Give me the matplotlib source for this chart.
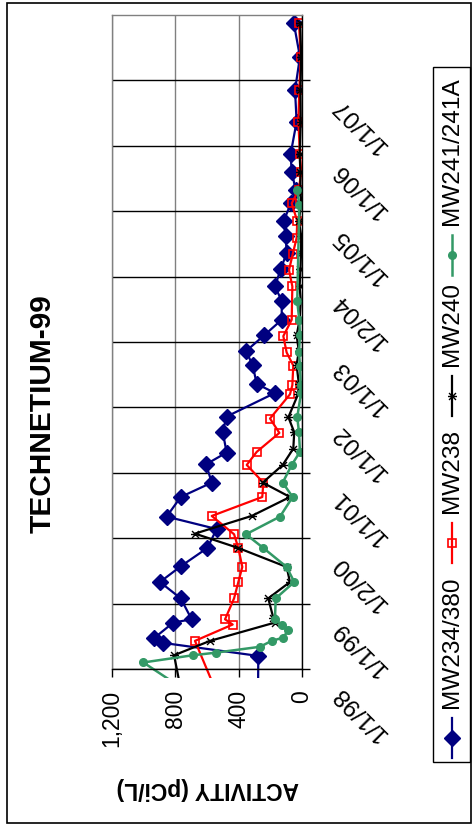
import matplotlib
matplotlib.use('Agg')
import matplotlib.pyplot as plt
from matplotlib.path import Path
from matplotlib.patches import Rectangle
from matplotlib.transforms import ScaledTranslation
from matplotlib.ticker import FuncFormatter

plt.rcParams['font.family'] = ['Liberation Sans', 'DejaVu Sans']

# sample dates as decimal years, activity in pCi/L
mw234_yr = [1997.5, 1998.20, 1998.40, 1998.47, 1998.71, 1998.76, 1999.08, 1999.33, 1999.57, 1999.85,
            2000.14, 2000.33, 2000.63, 2000.85, 2001.13, 2001.31, 2001.63, 2001.86, 2002.22, 2002.36,
            2002.65, 2002.86, 2003.10, 2003.34, 2003.63, 2003.85, 2004.11, 2004.36, 2004.62, 2004.85,
            2005.12, 2005.33, 2005.60, 2005.87, 2006.37, 2006.85, 2007.36, 2007.88]
mw234_val = [278, 276, 880, 935, 813, 697, 766, 897, 766, 598,
             539, 855, 766, 570, 606, 476, 501, 476, 171, 286,
             312, 354, 240, 128, 128, 171, 135, 97, 103, 116,
             70, 40, 65, 72, 34, 44, 13, 52]

mw238_yr = [1997.5, 1998.43, 1998.68, 1998.76, 1999.08, 1999.33, 1999.56, 1999.85, 2000.06, 2000.34,
            2000.63, 2000.85, 2001.12, 2001.32, 2001.61, 2001.83, 2002.20, 2002.34, 2002.64, 2002.84,
            2003.09, 2003.34, 2003.85, 2004.10, 2004.34, 2004.59, 2004.85, 2005.12, 2005.33, 2005.60,
            2005.87, 2006.37, 2006.85, 2007.36, 2007.88]
mw238_val = [515, 676, 438, 486, 429, 402, 377, 402, 429, 570,
             251, 244, 349, 286, 143, 202, 76, 61, 55, 97,
             118, 65, 61, 82, 59, 34, 30, 65, 20, 5,
             13, 23, 17, 8, 19]

mw240_yr = [1997.5, 1998.21, 1998.43, 1998.71, 1998.78, 1999.08, 1999.33, 1999.56, 1999.85, 2000.07,
            2000.34, 2000.63, 2000.85, 2001.12, 2001.37, 2001.62, 2001.85, 2002.20, 2002.36, 2002.65,
            2002.86, 2003.10, 2003.34, 2003.63, 2003.85, 2004.11, 2004.36, 2004.62, 2004.85, 2005.12,
            2005.33, 2005.60, 2005.87, 2006.37, 2006.85, 2007.36, 2007.88]
mw240_val = [750, 808, 581, 171, 181, 213, 76, 97, 402, 676,
             318, 76, 248, 122, 55, 49, 86, 25, 20, 34,
             20, 34, 15, 8, 15, 10, 6, 5, 20, 5,
             10, 10, 15, 8, 10, 5, 12]

mw241_yr = [1997.5, 1998.10, 1998.21, 1998.25, 1998.34, 1998.43, 1998.48, 1998.60, 1998.68, 1998.76,
            1999.08, 1999.33, 1999.56, 1999.85, 2000.06, 2000.33, 2000.63, 2000.85, 2001.12, 2001.32,
            2001.62, 2001.85, 2002.22, 2002.34, 2002.64, 2002.84, 2003.10, 2003.34, 2003.62, 2005.10,
            2005.33]
mw241_val = [628, 1002, 690, 543, 265, 192, 118, 86, 128, 171,
             166, 49, 97, 244, 354, 139, 59, 122, 65, 13,
             19, 30, 6, 8, 13, 19, 13, 17, 30, 17,
             30]

date_ticks = [1998, 1999, 2000, 2001, 2002, 2003, 2004, 2005, 2006, 2007]
date_labels = ['1/1/98', '1/1/99', '1/2/00', '1/1/01', '1/1/02',
               '1/1/03', '1/2/04', '1/1/05', '1/1/06', '1/1/07']
value_ticks = [0, 400, 800, 1200]
series_names = ['MW234/380', 'MW238', 'MW240', 'MW241/241A']

# asterisk marker (x with a crossing bar)
star = Path([(-1, -1), (1, 1), (-1, 1), (1, -1), (-1.3, 0), (1.3, 0)],
            [Path.MOVETO, Path.LINETO, Path.MOVETO, Path.LINETO, Path.MOVETO, Path.LINETO])

colors = ['#000080', '#FF0000', 'black', '#339966']
line_w = [1.6, 1.6, 1.6, 1.8]
markers = [
    dict(marker='D', markersize=8),
    dict(marker='s', markersize=5.2, mfc='none', mew=1.2),
    dict(marker=star, markersize=6.5, mew=1),
    dict(marker='o', markersize=5.5),
]
series = [(mw234_yr, mw234_val), (mw238_yr, mw238_val),
          (mw240_yr, mw240_val), (mw241_yr, mw241_val)]

fig = plt.figure(figsize=(4.72, 8.27), dpi=100)
ax = fig.add_axes([112 / 472, 158 / 827, 190 / 472, 654 / 827])

# lines run a little past the start of the date axis
clip = Rectangle((0, -0.013), 1, 1.013, transform=ax.transAxes)
for (yr, val), c, lw, mk in zip(series, colors, line_w, markers):
    line, = ax.plot(val, yr, color=c, lw=lw, **mk)
    line.set_clip_path(clip)

ax.set_xlim(1200, 0)
ax.set_ylim(1998, 2008)
ax.set_xticks(value_ticks)
ax.xaxis.set_major_formatter(FuncFormatter(lambda v, p: f'{v:,.0f}'))
ax.set_yticks(date_ticks)
ax.yaxis.tick_right()
ax.tick_params(axis='x', direction='out', length=5.8, width=1, pad=9.5,
               labelsize=16.5, labelrotation=90)
ax.tick_params(axis='y', direction='out', length=5.8, width=1, pad=0, labelsize=17.5)
ax.set_yticklabels(date_labels, rotation=135, rotation_mode='anchor', ha='right', va='center')
for lab in ax.get_yticklabels():
    lab.set_transform(lab.get_transform() + ScaledTranslation(0.26, -0.21, fig.dpi_scale_trans))

ax.set_axisbelow(True)
ax.grid(axis='y', color='black', lw=1)
ax.grid(axis='x', color='#808080', lw=1)
ax.spines['top'].set_color('#808080')
ax.spines['left'].set_color('#808080')
for s in ax.spines.values():
    s.set_linewidth(1)

ax.set_xlabel('ACTIVITY (pCi/L)', rotation=180, fontsize=16.5, fontweight='bold', va='center')
ax.xaxis.set_label_coords(0.503, -0.182)

fig.text(42.5 / 472, 1 - 413.5 / 827, 'TECHNETIUM-99', rotation=90, ha='center', va='center',
         fontsize=21.5, fontweight='bold')

# overlay in pixel units for the frame and the legend
lax = fig.add_axes([0, 0, 1, 1])
lax.set_xlim(0, 472)
lax.set_ylim(827, 0)
lax.axis('off')
lax.add_patch(Rectangle((7, 3), 464, 820, fill=False, ec='black', lw=1.2))
lax.add_patch(Rectangle((433, 67), 37, 695, fill=False, ec='black', lw=1))

legend_y = [738, 543, 396, 255]
for name, c, lw, mk, y in zip(series_names, colors, line_w, markers, legend_y):
    lax.plot([452, 452], [y + 20, y - 20], color=c, lw=lw)
    lax.plot([452], [y], color=c, linestyle='none', **mk)
    lax.text(452, y - 30, name, rotation=90, ha='center', va='bottom', fontsize=17.6)

fig.savefig('out.png', dpi=100)
